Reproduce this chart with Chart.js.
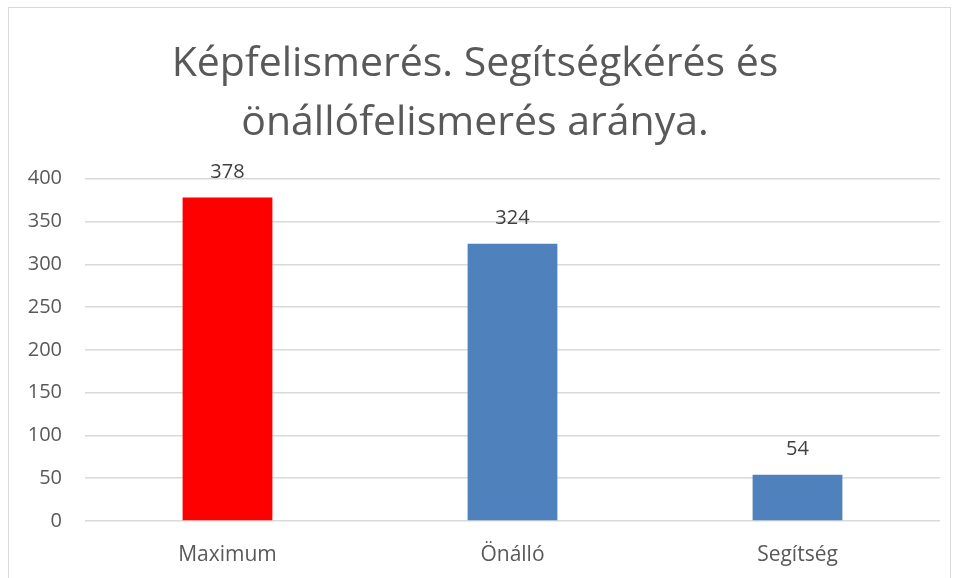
<!DOCTYPE html>
<html>
<head>
<meta charset="utf-8">
<script src="https://cdn.jsdelivr.net/npm/chart.js@4"></script>
<style>
  body { margin: 0; background: #fff; }
  #frame { position: absolute; left: 8px; top: 7px; width: 943px; height: 580px; border: 1px solid #d9d9d9; box-sizing: border-box; }
  #wrap { position: absolute; left: 0; top: 0; width: 960px; height: 578px; }
</style>
</head>
<body>
<div id="frame"></div>
<div id="wrap"><canvas id="myChart" width="960" height="578"></canvas></div>
<script>
// Data for the chart
const categories = ['Maximum', 'Önálló', 'Segítség'];
const values = [378, 324, 54];
const barColors = ['#ff0000', '#4f81bd', '#4f81bd'];
const titleLines = ['Képfelismerés. Segítségkérés és', 'önállófelismerés aránya.'];

// Draw the value above each bar
const valueLabels = {
    id: 'valueLabels',
    afterDatasetsDraw(chart) {
        const ctx = chart.ctx;
        const meta = chart.getDatasetMeta(0);
        ctx.save();
        ctx.font = '20px "Open Sans", sans-serif';
        ctx.fillStyle = '#404040';
        ctx.textAlign = 'center';
        ctx.textBaseline = 'bottom';
        meta.data.forEach((bar, i) => {
            ctx.fillText(values[i], bar.x, bar.y - 15);
        });
        ctx.restore();
    }
};

function createChart() {
    const ctx = document.getElementById('myChart').getContext('2d');
    new Chart(ctx, {
        type: 'bar',
        data: {
            labels: categories,
            datasets: [{
                data: values,
                backgroundColor: barColors,
                barPercentage: 0.315,
                categoryPercentage: 1
            }]
        },
        options: {
            responsive: false,
            animation: false,
            layout: { padding: { left: 10, right: 20, top: 10, bottom: 7 } },
            plugins: {
                legend: { display: false },
                tooltip: { enabled: false },
                title: {
                    display: true,
                    text: titleLines,
                    color: '#595959',
                    font: { family: '"Open Sans", sans-serif', size: 41, weight: 'normal', lineHeight: 1.46 },
                    padding: { top: 24, bottom: 25 }
                }
            },
            scales: {
                y: {
                    min: 0,
                    max: 400,
                    ticks: { stepSize: 50, color: '#595959', font: { family: '"Open Sans", sans-serif', size: 20 }, padding: 23 },
                    grid: { color: '#d9d9d9', lineWidth: 1.5, drawTicks: false },
                    border: { display: false },
                    afterFit(axis) { axis.width = 75; }
                },
                x: {
                    ticks: { color: '#595959', font: { family: '"Open Sans", sans-serif', size: 21 }, padding: 13 },
                    grid: { display: false },
                    border: { display: false },
                    afterFit(axis) { axis.height = 50; }
                }
            }
        },
        plugins: [valueLabels]
    });
}

window.onload = createChart;
</script>
</body>
</html>
